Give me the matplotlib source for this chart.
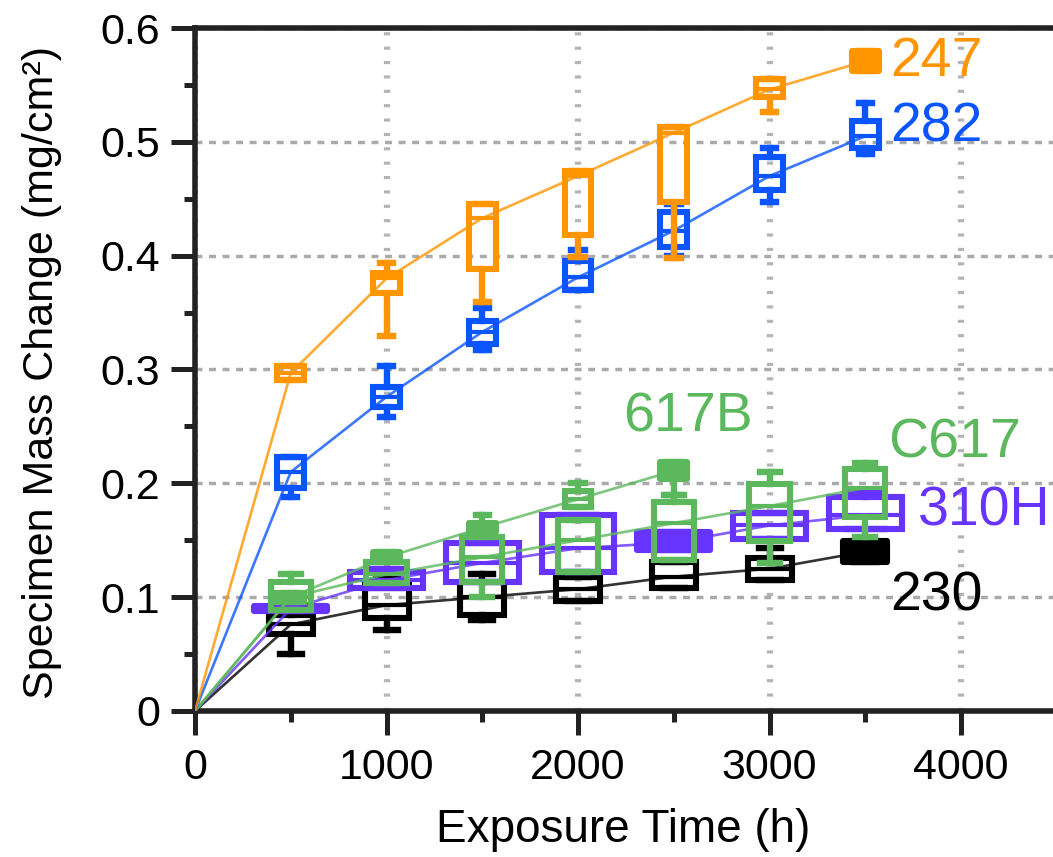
import matplotlib
matplotlib.use("Agg")
import matplotlib.pyplot as plt
from matplotlib.ticker import MultipleLocator, FixedLocator

plt.rcParams["font.family"] = ["Liberation Sans", "DejaVu Sans"]

# exposure times (h)
TIMES = [500, 1000, 1500, 2000, 2500, 3000, 3500]
TIMES_617B = [500, 1000, 1500, 2000, 2500]

# alloy 247
A247_Q1 = [0.291, 0.367, 0.388, 0.418, 0.447, 0.539, 0.562]
A247_Q3 = [0.303, 0.385, 0.445, 0.474, 0.513, 0.555, 0.580]
A247_LO = [0.291, 0.329, 0.359, 0.399, 0.398, 0.526, 0.562]
A247_HI = [0.303, 0.394, 0.445, 0.474, 0.513, 0.555, 0.580]
A247_MED = [0.297, 0.380, 0.433, 0.470, 0.508, 0.546, 0.571]

# alloy 282
A282_Q1 = [0.196, 0.267, 0.322, 0.370, 0.408, 0.458, 0.495]
A282_Q3 = [0.223, 0.285, 0.343, 0.395, 0.438, 0.487, 0.518]
A282_LO = [0.188, 0.258, 0.317, 0.370, 0.400, 0.447, 0.489]
A282_HI = [0.223, 0.303, 0.354, 0.405, 0.445, 0.495, 0.534]
A282_MED = [0.210, 0.276, 0.333, 0.381, 0.422, 0.470, 0.505]

# alloy C617
C617_Q1 = [0.089, 0.112, 0.113, 0.122, 0.133, 0.149, 0.170]
C617_Q3 = [0.113, 0.131, 0.153, 0.168, 0.184, 0.199, 0.213]
C617_LO = [0.089, 0.112, 0.100, 0.122, 0.133, 0.130, 0.153]
C617_HI = [0.120, 0.131, 0.153, 0.168, 0.190, 0.210, 0.218]
C617_MED = [0.100, 0.120, 0.135, 0.150, 0.165, 0.180, 0.196]

# alloy 617B
B617_Q1 = [0.096, 0.133, 0.157, 0.179, 0.204]
B617_Q3 = [0.104, 0.140, 0.165, 0.193, 0.219]
B617_LO = [0.096, 0.133, 0.157, 0.179, 0.190]
B617_HI = [0.104, 0.140, 0.172, 0.200, 0.219]
B617_MED = [0.100, 0.135, 0.161, 0.186, 0.211]

# alloy 310H
H310_Q1 = [0.088, 0.108, 0.113, 0.122, 0.141, 0.151, 0.160]
H310_Q3 = [0.092, 0.122, 0.148, 0.172, 0.157, 0.174, 0.188]
H310_LO = [0.088, 0.108, 0.113, 0.122, 0.141, 0.151, 0.160]
H310_HI = [0.092, 0.125, 0.148, 0.172, 0.157, 0.174, 0.192]
H310_MED = [0.090, 0.115, 0.130, 0.143, 0.148, 0.163, 0.172]

# alloy 230
A230_Q1 = [0.068, 0.082, 0.084, 0.097, 0.108, 0.115, 0.131]
A230_Q3 = [0.084, 0.113, 0.113, 0.118, 0.131, 0.134, 0.149]
A230_LO = [0.050, 0.071, 0.080, 0.097, 0.108, 0.115, 0.131]
A230_HI = [0.091, 0.119, 0.120, 0.118, 0.131, 0.143, 0.149]
A230_MED = [0.076, 0.093, 0.100, 0.107, 0.118, 0.125, 0.140]

Y_TICKS = [0, 0.1, 0.2, 0.3, 0.4, 0.5, 0.6]
Y_TICK_LABELS = ["0", "0.1", "0.2", "0.3", "0.4", "0.5", "0.6"]
X_TICKS = [0, 1000, 2000, 3000, 4000]

ORANGE = "#ff9500"
BLUE = "#0a55ff"
GREEN = "#5cb85c"
PURPLE = "#6633ff"
BLACK = "#000000"


def draw_series(ax, times, q1, q3, lo, hi, med, width, color, filled, z):
    stats = []
    for a, b, w0, w1, m in zip(q1, q3, lo, hi, med):
        stats.append(dict(med=m, q1=a, q3=b, whislo=w0, whishi=w1, fliers=[]))
    ax.plot([0] + list(times), [0] + list(med), color=color, lw=1.9,
            alpha=0.8, zorder=z, solid_capstyle="butt")
    bp = ax.bxp(stats, positions=times, widths=width, patch_artist=True,
                manage_ticks=False, showfliers=False,
                boxprops=dict(facecolor="none", edgecolor=color, linewidth=4.4),
                whiskerprops=dict(color=color, linewidth=4.6),
                capprops=dict(color=color, linewidth=4.6),
                medianprops=dict(color=color, linewidth=3.0),
                zorder=z + 0.5)
    for i in filled:
        bp["boxes"][i].set_facecolor(color)
        bp["boxes"][i].set_joinstyle("round")


fig = plt.figure(figsize=(10.53, 8.57), dpi=100)
ax = fig.add_axes([0.1852, 0.1704, 0.8148, 0.7969])

draw_series(ax, TIMES, A230_Q1, A230_Q3, A230_LO, A230_HI, A230_MED,
            230, BLACK, [6], 3)
draw_series(ax, TIMES, H310_Q1, H310_Q3, H310_LO, H310_HI, H310_MED,
            380, PURPLE, [0, 4], 4)
draw_series(ax, TIMES, C617_Q1, C617_Q3, C617_LO, C617_HI, C617_MED,
            210, GREEN, [], 5)
draw_series(ax, TIMES_617B, B617_Q1, B617_Q3, B617_LO, B617_HI, B617_MED,
            140, GREEN, [1, 2, 4], 5)
draw_series(ax, TIMES, A282_Q1, A282_Q3, A282_LO, A282_HI, A282_MED,
            140, BLUE, [], 6)
draw_series(ax, TIMES, A247_Q1, A247_Q3, A247_LO, A247_HI, A247_MED,
            140, ORANGE, [6], 7)

label_kw = dict(fontsize=40, ha="left", va="center")
ax.text(3630, 0.570, "247", color=ORANGE, **label_kw)
ax.text(3630, 0.513, "282", color=BLUE, **label_kw)
ax.text(2235, 0.2575, "617B", color=GREEN, **label_kw)
ax.text(3620, 0.2346, "C617", color=GREEN, **label_kw)
ax.text(3775, 0.1749, "310H", color=PURPLE, **label_kw)
ax.text(3630, 0.101, "230", color=BLACK, **label_kw)

ax.set_xlim(0, 4480)
ax.set_ylim(0, 0.6)
ax.xaxis.set_major_locator(FixedLocator(X_TICKS))
ax.xaxis.set_minor_locator(MultipleLocator(500))
ax.set_yticks(Y_TICKS)
ax.set_yticklabels(Y_TICK_LABELS)
ax.yaxis.set_minor_locator(MultipleLocator(0.05))

ax.set_axisbelow(True)
ax.grid(axis="y", color="#aaaaaa", lw=2.5, linestyle=(0, (2.0, 1.9)))
ax.grid(axis="x", color="#b4b4b4", lw=4.5, linestyle=(0, (0.5, 1.8)))

for side in ("left", "bottom", "top"):
    ax.spines[side].set_linewidth(4)
    ax.spines[side].set_color("#222222")
ax.spines["right"].set_visible(False)

ax.tick_params(which="major", direction="out", length=17, width=3.6,
               color="#222222", labelsize=31, pad=8)
ax.tick_params(which="minor", direction="out", length=8, width=3.6,
               color="#222222")
ax.tick_params(axis="x", which="both", top=False)
ax.tick_params(axis="x", pad=10)

ax.set_xlabel("Exposure Time (h)", fontsize=33)
ax.set_ylabel("Specimen Mass Change (mg/cm²)", fontsize=31)
ax.xaxis.set_label_coords(0.499, -0.142)
ax.yaxis.set_label_coords(-0.155, 0.495)

fig.savefig("out.png", dpi=100)
